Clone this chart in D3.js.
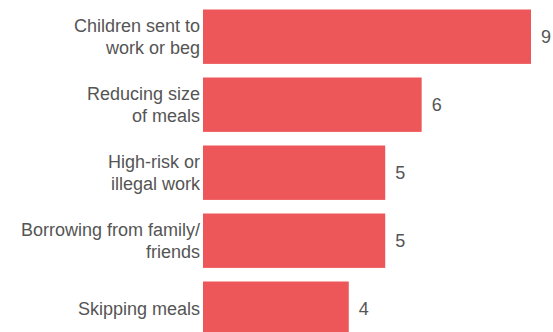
<!DOCTYPE html>
<html>
<head>
<meta charset="utf-8">
<script src="https://cdn.jsdelivr.net/npm/d3@7"></script>
<style>
  html, body { margin: 0; padding: 0; background: #fff; }
  svg { display: block; }
</style>
</head>
<body>
<div id="chart"></div>
<script>
const categories = [
  ["Children sent to", "work or beg"],
  ["Reducing size", "of meals"],
  ["High-risk or", "illegal work"],
  ["Borrowing from family/", "friends"],
  ["Skipping meals"]
];
const values = [9, 6, 5, 5, 4];

const W = 553, H = 332;
const svg = d3.select("#chart").append("svg").attr("width", W).attr("height", H);

const ids = categories.map((c, i) => i);
const y = d3.scaleBand().domain(ids).range([2.7, 342.7]).paddingInner(0.2).paddingOuter(0.1);
const x = d3.scaleLinear().domain([0, 9]).range([203, 531]);

const g = svg.append("g");

g.selectAll("rect").data(ids).join("rect")
  .attr("x", x(0))
  .attr("y", i => y(i))
  .attr("width", i => x(values[i]) - x(0))
  .attr("height", y.bandwidth())
  .attr("fill", "#ee5759");

g.selectAll("text.val").data(ids).join("text")
  .attr("class", "val")
  .attr("x", i => x(values[i]) + 10)
  .attr("y", i => y(i) + y.bandwidth() / 2)
  .attr("dy", "0.35em")
  .attr("font-family", "Liberation Sans, Arial, sans-serif")
  .attr("font-size", 18)
  .attr("fill", "#555")
  .text(i => values[i]);

const labels = g.selectAll("text.lab").data(ids).join("text")
  .attr("class", "lab")
  .attr("text-anchor", "end")
  .attr("font-family", "Liberation Sans, Arial, sans-serif")
  .attr("font-size", 18)
  .attr("fill", "#555");

labels.each(function(i) {
  const lines = categories[i];
  const lh = 22.6;
  const cy = y(i) + y.bandwidth() / 2;
  const first = cy - (lines.length - 1) * lh / 2;
  d3.select(this).selectAll("tspan").data(lines).join("tspan")
    .attr("x", x(0) - 3)
    .attr("y", (d, k) => first + k * lh)
    .attr("dy", "0.35em")
    .text(d => d);
});
</script>
</body>
</html>
